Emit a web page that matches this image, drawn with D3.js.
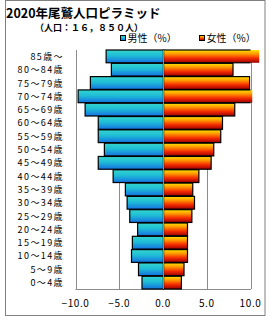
<!DOCTYPE html>
<html>
<head>
<meta charset="utf-8">
<script src="https://cdn.jsdelivr.net/npm/d3@7"></script>
<style>
  body { margin: 0; background: #fff; }
  text { font-family: "Noto Sans CJK JP", "DejaVu Sans", sans-serif; }
</style>
</head>
<body>
<svg id="chart" width="270" height="320"></svg>
<script>

let ageGroups = [
    '85歳～', '80～84歳', '75～79歳', '70～74歳', '65～69歳', '60～64歳',
    '55～59歳', '50～54歳', '45～49歳', '40～44歳', '35～39歳', '30～34歳',
    '25～29歳', '20～24歳', '15～19歳', '10～14歳', '5～9歳', '0～4歳'
];

let malePct = [6.5, 5.9, 8.3, 9.7, 8.9, 7.4, 7.4, 6.7, 7.4, 5.7, 4.3, 4.1, 3.8, 2.9, 3.5, 3.6, 2.8, 2.4];
let femalePct = [11.0, 8.0, 9.9, 10.2, 8.2, 6.8, 6.6, 5.8, 5.5, 4.1, 3.4, 3.6, 3.3, 2.8, 2.8, 2.8, 2.4, 2.1];

let tickValues = [-10, -5, 0, 5, 10];
let tickLabels = ['−10.0', '−5.0', '0.0', '5.0', '10.0'];

let titleText = '2020年尾鷲人口ピラミッド';
let subtitleText = '（人口：１６，８５０人）';
let legendNames = ['男性（%）', '女性（%）'];

let svg = d3.select('#chart');
let plot = {left: 75.5, right: 250.5, top: 50, bottom: 289};

let x = d3.scaleLinear().domain([-10, 10]).range([plot.left, plot.right]);
let y = d3.scaleBand().domain(ageGroups).range([plot.top, plot.bottom]).paddingInner(0.04);

// gradients
let defs = svg.append('defs');
let mkGrad = (id, stops) => {
    let g = defs.append('linearGradient')
        .attr('id', id)
        .attr('x1', 0).attr('y1', 0).attr('x2', 0).attr('y2', 1);
    stops.forEach(([o, c]) => g.append('stop').attr('offset', o).attr('stop-color', c));
};
mkGrad('gMale', [[0, '#34d6cf'], [0.45, '#1fbcd6'], [1, '#1470e2']]);
mkGrad('gFemale', [[0, '#ffe400'], [0.3, '#ff9a00'], [0.65, '#f42a00'], [1, '#9a0000']]);

defs.append('clipPath').attr('id', 'plotClip')
    .append('rect')
    .attr('x', plot.left - 2).attr('y', plot.top - 2)
    .attr('width', plot.right - plot.left + 2).attr('height', plot.bottom - plot.top + 4);

// outer frame
svg.append('rect')
    .attr('x', 5.5).attr('y', 0.5).attr('width', 259.5).attr('height', 315)
    .attr('fill', 'none').attr('stroke', '#808080').attr('stroke-width', 1);

// titles
svg.append('text')
    .attr('x', 6).attr('y', 18)
    .attr('font-size', 12.5).attr('font-weight', 'bold')
    .text(titleText);

svg.append('text')
    .attr('x', 35).attr('y', 31)
    .attr('font-size', 9).attr('font-weight', 'bold')
    .text(subtitleText);

// legend
let legendItems = [
    {name: legendNames[0], fill: 'url(#gMale)', x: 120.5},
    {name: legendNames[1], fill: 'url(#gFemale)', x: 199.5}
];
let lg = svg.selectAll('.legend')
    .data(legendItems)
    .enter()
    .append('g')
    .attr('class', 'legend');
lg.append('rect')
    .attr('x', d => d.x).attr('y', 35.5)
    .attr('width', 5).attr('height', 5)
    .attr('fill', d => d.fill).attr('stroke', '#000').attr('stroke-width', 1);
lg.append('text')
    .attr('x', d => d.x + 7).attr('y', 42)
    .attr('font-size', 10)
    .text(d => d.name);

// grid + axis frame
svg.selectAll('.grid')
    .data(tickValues)
    .enter()
    .append('line')
    .attr('class', 'grid')
    .attr('x1', d => Math.round(x(d)) + 0.5).attr('x2', d => Math.round(x(d)) + 0.5)
    .attr('y1', plot.top).attr('y2', plot.bottom)
    .attr('stroke', '#8c8c8c').attr('stroke-width', 1);

svg.append('line')
    .attr('x1', plot.left).attr('x2', plot.right + 0.5)
    .attr('y1', plot.bottom + 0.5).attr('y2', plot.bottom + 0.5)
    .attr('stroke', '#8c8c8c');

// bars
let rows = ageGroups.map((a, i) => ({age: a, male: malePct[i], female: femalePct[i]}));
let zero = Math.round(x(0)) + 0.5;

let barFill = svg.append('g');
let barLine = svg.append('g').attr('clip-path', 'url(#plotClip)');

barFill.selectAll('.male')
    .data(rows)
    .enter()
    .append('rect')
    .attr('class', 'male')
    .attr('x', d => x(-d.male)).attr('y', d => y(d.age))
    .attr('width', d => zero - x(-d.male)).attr('height', y.bandwidth())
    .attr('fill', 'url(#gMale)');

barFill.selectAll('.female')
    .data(rows)
    .enter()
    .append('rect')
    .attr('class', 'female')
    .attr('x', zero).attr('y', d => y(d.age))
    .attr('width', d => x(d.female) - zero).attr('height', y.bandwidth())
    .attr('fill', 'url(#gFemale)');

barLine.selectAll('.maleLine')
    .data(rows)
    .enter()
    .append('rect')
    .attr('x', d => x(-d.male)).attr('y', d => y(d.age))
    .attr('width', d => zero - x(-d.male)).attr('height', y.bandwidth())
    .attr('fill', 'none').attr('stroke', '#000').attr('stroke-width', 1.2);

barLine.selectAll('.femaleLine')
    .data(rows)
    .enter()
    .append('rect')
    .attr('x', zero).attr('y', d => y(d.age))
    .attr('width', d => x(d.female) - zero).attr('height', y.bandwidth())
    .attr('fill', 'none').attr('stroke', '#000').attr('stroke-width', 1.2);

// zero line on top
svg.append('line')
    .attr('x1', zero).attr('x2', zero)
    .attr('y1', plot.top).attr('y2', plot.bottom)
    .attr('stroke', '#8c8c8c');

// category labels
svg.selectAll('.cat')
    .data(ageGroups)
    .enter()
    .append('text')
    .attr('class', 'cat')
    .attr('x', 64).attr('y', d => y(d) + y.bandwidth() / 2 + 3.5)
    .attr('text-anchor', 'end')
    .attr('font-size', 9)
    .attr('letter-spacing', 1.4)
    .text(d => d);

// tick labels
svg.selectAll('.tick')
    .data(tickValues)
    .enter()
    .append('text')
    .attr('class', 'tick')
    .attr('x', d => x(d)).attr('y', 307)
    .attr('text-anchor', 'middle')
    .attr('font-size', 10)
    .attr('letter-spacing', 0.6)
    .text((d, i) => tickLabels[i]);

</script>
</body>
</html>
